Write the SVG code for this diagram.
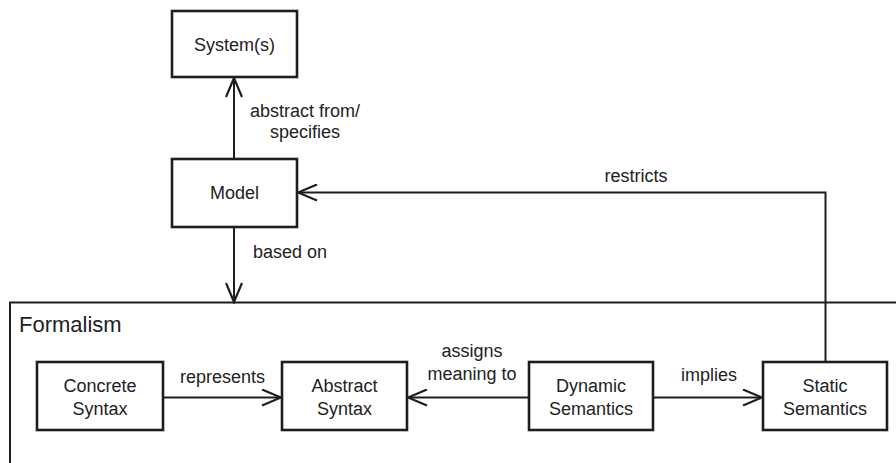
<svg xmlns="http://www.w3.org/2000/svg" width="896" height="463" viewBox="0 0 896 463">
  <style>
    .box { fill: #fff; stroke: #1e1e1e; stroke-width: 2.6; }
    .conn { fill: none; stroke: #1e1e1e; stroke-width: 2; }
    .frame { fill: none; stroke: #1e1e1e; stroke-width: 2; }
    text { font-family: "Liberation Sans", Arial, sans-serif; font-size: 18px; fill: #222; }
    .c { text-anchor: middle; }
    .title { font-size: 22px; }
  </style>
  <defs>
    <marker id="open" viewBox="0 0 22 18" refX="20" refY="9" markerWidth="22" markerHeight="18" markerUnits="userSpaceOnUse" orient="auto">
      <path d="M1,1 L20,9 L1,17" fill="none" stroke="#1e1e1e" stroke-width="2.2"/>
    </marker>
  </defs>

  <!-- Formalism frame -->
  <g id="formalism">
    <path class="frame" d="M10,463 V302.5 H896"/>
    <text class="title" x="19" y="332">Formalism</text>
  </g>

  <!-- connectors -->
  <g id="connectors">
    <line class="conn" x1="234" y1="159" x2="234" y2="78" marker-end="url(#open)"/>
    <text class="c" x="305" y="117">abstract from/</text>
    <text class="c" x="305" y="138">specifies</text>

    <line class="conn" x1="234" y1="227" x2="234" y2="302" marker-end="url(#open)"/>
    <text class="c" x="290" y="258">based on</text>

    <path class="conn" d="M825.5,362 V192.5 H298" marker-end="url(#open)"/>
    <text class="c" x="636" y="182">restricts</text>

    <line class="conn" x1="163" y1="397.5" x2="281" y2="397.5" marker-end="url(#open)"/>
    <text class="c" x="222.5" y="383">represents</text>

    <line class="conn" x1="529" y1="397.5" x2="408" y2="397.5" marker-end="url(#open)"/>
    <text class="c" x="472" y="357">assigns</text>
    <text class="c" x="472" y="380">meaning to</text>

    <line class="conn" x1="653" y1="397.5" x2="762" y2="397.5" marker-end="url(#open)"/>
    <text class="c" x="709" y="381">implies</text>
  </g>

  <!-- nodes -->
  <g id="systems">
    <rect class="box" x="172" y="11" width="125" height="66"/>
    <text class="c" x="234.5" y="51">System(s)</text>
  </g>
  <g id="model">
    <rect class="box" x="172" y="159" width="125" height="68"/>
    <text class="c" x="234.5" y="199">Model</text>
  </g>
  <g id="concrete-syntax">
    <rect class="box" x="37" y="362" width="126" height="68"/>
    <text class="c" x="100" y="392">Concrete</text>
    <text class="c" x="100" y="414.5">Syntax</text>
  </g>
  <g id="abstract-syntax">
    <rect class="box" x="282" y="362" width="125" height="68"/>
    <text class="c" x="344.5" y="392">Abstract</text>
    <text class="c" x="344.5" y="414.5">Syntax</text>
  </g>
  <g id="dynamic-semantics">
    <rect class="box" x="529" y="362" width="124" height="68"/>
    <text class="c" x="591" y="392">Dynamic</text>
    <text class="c" x="591" y="414.5">Semantics</text>
  </g>
  <g id="static-semantics">
    <rect class="box" x="763" y="362" width="124" height="68"/>
    <text class="c" x="825" y="392">Static</text>
    <text class="c" x="825" y="414.5">Semantics</text>
  </g>
</svg>
